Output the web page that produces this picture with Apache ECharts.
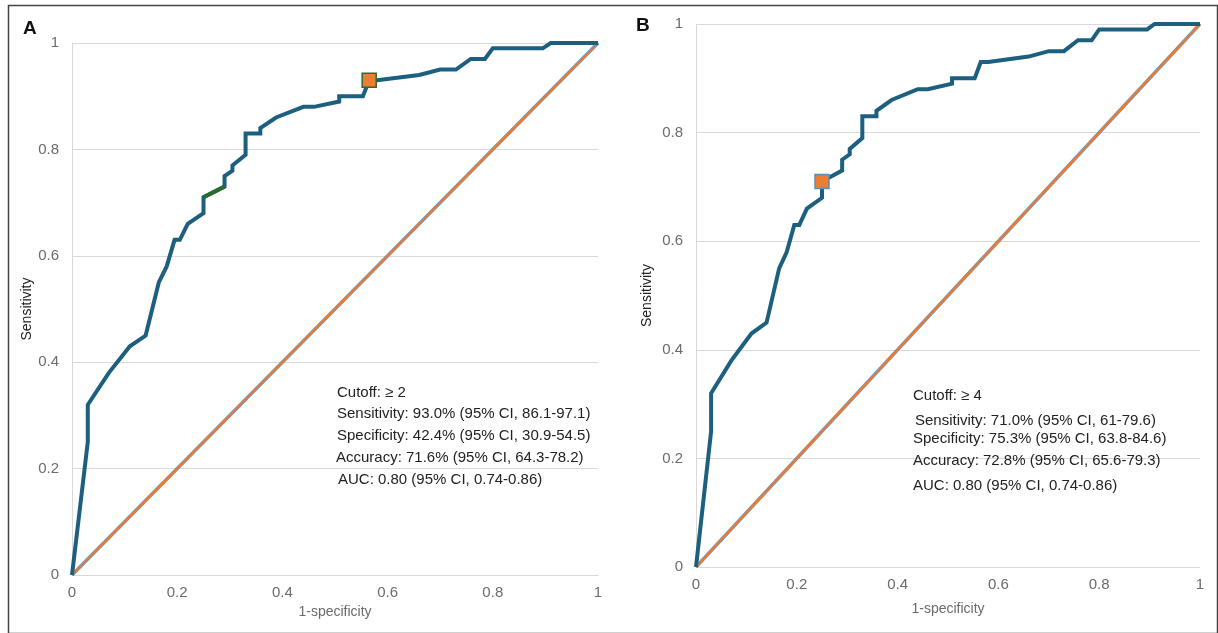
<!DOCTYPE html>
<html>
<head>
<meta charset="utf-8">
<script src="https://cdn.jsdelivr.net/npm/echarts@6/dist/echarts.min.js"></script>
<style>
  html, body { margin: 0; padding: 0; background: #fff; }
  #roc { width: 1218px; height: 633px; }
</style>
</head>
<body>
<div id="roc"></div>
<script>
  // ROC curve (same curve in both panels)
  var rocFpr = [0, 0.03, 0.03, 0.07, 0.11, 0.14, 0.165, 0.18, 0.195, 0.205, 0.22, 0.25, 0.25, 0.29, 0.29, 0.305, 0.305, 0.33, 0.33, 0.358, 0.358, 0.388, 0.44, 0.46, 0.508, 0.508, 0.553, 0.565, 0.58, 0.66, 0.70, 0.73, 0.758, 0.785, 0.80, 0.895, 0.91, 1]
  var rocTpr = [0, 0.25, 0.32, 0.38, 0.43, 0.45, 0.55, 0.58, 0.63, 0.63, 0.66, 0.68, 0.71, 0.73, 0.75, 0.76, 0.77, 0.79, 0.83, 0.83, 0.84, 0.86, 0.88, 0.88, 0.89, 0.90, 0.90, 0.93, 0.93, 0.94, 0.95, 0.95, 0.97, 0.97, 0.99, 0.99, 1, 1]
  var diagFpr = [0, 1]
  var diagTpr = [0, 1]
  // short green piece in panel A
  var greenFpr = [0.25, 0.29]
  var greenTpr = [0.71, 0.73]
  // chosen cutoffs
  var cutA = [0.565, 0.93]
  var cutB = [0.25, 0.71]
  var tickLabels = ['0', '0.2', '0.4', '0.6', '0.8', '1']
  var statsA = ['Cutoff: ≥ 2', 'Sensitivity: 93.0% (95% CI, 86.1-97.1)', 'Specificity: 42.4% (95% CI, 30.9-54.5)', 'Accuracy: 71.6% (95% CI, 64.3-78.2)', 'AUC: 0.80 (95% CI, 0.74-0.86)']
  var statsB = ['Cutoff: ≥ 4', 'Sensitivity: 71.0% (95% CI, 61-79.6)', 'Specificity: 75.3% (95% CI, 63.8-84.6)', 'Accuracy: 72.8% (95% CI, 65.6-79.3)', 'AUC: 0.80 (95% CI, 0.74-0.86)']

  var font = '"Liberation Sans", Arial, sans-serif'
  var curveColor = '#1c5f7f'
  var gridColor = '#d9d9d9'

  function zip(xs, ys) {
    return xs.map(function(x, i) { return [x, ys[i]] })
  }

  function xAxisFor(idx, nameGap) {
    return {
      type: 'value', gridIndex: idx, min: 0, max: 1, interval: 0.2,
      name: '1-specificity', nameLocation: 'middle', nameGap: nameGap,
      nameTextStyle: { color: '#6b6b6b', fontSize: 14, fontFamily: font },
      axisLine: { show: true, lineStyle: { color: gridColor, width: 1 } },
      axisTick: { show: false },
      splitLine: { show: false },
      axisLabel: {
        color: '#6b6b6b', fontSize: 15, fontFamily: font, margin: 10,
        formatter: function(v) { return tickLabels[Math.round(v * 5)] }
      }
    }
  }

  function yAxisFor(idx, nameGap) {
    return {
      type: 'value', gridIndex: idx, min: 0, max: 1, interval: 0.2,
      name: 'Sensitivity', nameLocation: 'middle', nameGap: nameGap,
      nameTextStyle: { color: '#222', fontSize: 14, fontFamily: font },
      axisLine: { show: true, lineStyle: { color: gridColor, width: 1 } },
      axisTick: { show: false },
      splitLine: { show: true, lineStyle: { color: gridColor, width: 1 } },
      axisLabel: {
        color: '#6b6b6b', fontSize: 15, fontFamily: font, margin: 13,
        formatter: function(v) { return tickLabels[Math.round(v * 5)] }
      }
    }
  }

  function panelSeries(idx, cut, borderColor) {
    var list = [
      {
        type: 'line', xAxisIndex: idx, yAxisIndex: idx, data: zip(diagFpr, diagTpr),
        symbol: 'none', lineStyle: { color: '#5b9bd5', width: 3.4 }, z: 2
      },
      {
        type: 'line', xAxisIndex: idx, yAxisIndex: idx, data: zip(diagFpr, diagTpr),
        symbol: 'none', lineStyle: { color: '#f07a2a', width: 2.4 }, z: 3
      },
      {
        type: 'line', xAxisIndex: idx, yAxisIndex: idx, data: zip(rocFpr, rocTpr),
        symbol: 'none', lineStyle: { color: curveColor, width: 4, join: 'miter' }, z: 4
      },
      {
        type: 'scatter', xAxisIndex: idx, yAxisIndex: idx, data: [cut],
        symbol: 'rect', symbolSize: 14,
        itemStyle: { color: '#ed7d31', borderColor: borderColor, borderWidth: 1.5, opacity: 1 }, z: 6
      }
    ]
    if (idx === 0) {
      list.push({
        type: 'line', xAxisIndex: idx, yAxisIndex: idx, data: zip(greenFpr, greenTpr),
        symbol: 'none', lineStyle: { color: '#2a6b2e', width: 4 }, z: 5
      })
    }
    return list
  }

  function statText(lines, lefts, tops) {
    return lines.map(function(t, i) {
      return {
        type: 'text', left: lefts[i], top: tops[i], z: 10,
        style: { text: t, fill: '#222', font: '15px ' + font }
      }
    })
  }

  var chart = echarts.init(document.getElementById('roc'))
  var option = {
    animation: false,
    backgroundColor: '#fff',
    grid: [
      { left: 72, right: 620, top: 43, bottom: 58 },
      { left: 696, right: 18, top: 24, bottom: 66 }
    ],
    xAxis: [xAxisFor(0, 28), xAxisFor(1, 35)],
    yAxis: [yAxisFor(0, 38), yAxisFor(1, 42)],
    series: panelSeries(0, cutA, '#2a6b2e').concat(panelSeries(1, cutB, '#5e8fb0')),
    graphic: [
      {
        type: 'rect', left: 6, top: 3, z: 0,
        shape: { width: 1209, height: 628 },
        style: { fill: 'none', stroke: '#444', lineWidth: 1.5 }
      },
      { type: 'text', left: 23, top: 19, style: { text: 'A', fill: '#111', font: 'bold 19px ' + font } },
      { type: 'text', left: 636, top: 16, style: { text: 'B', fill: '#111', font: 'bold 19px ' + font } }
    ]
      .concat(statText(statsA, [337, 337, 337, 336, 338], [385, 406, 428, 450, 472]))
      .concat(statText(statsB, [913, 915, 913, 913, 913], [388, 413, 431, 453, 478]))
  }
  chart.setOption(option)
</script>
</body>
</html>
